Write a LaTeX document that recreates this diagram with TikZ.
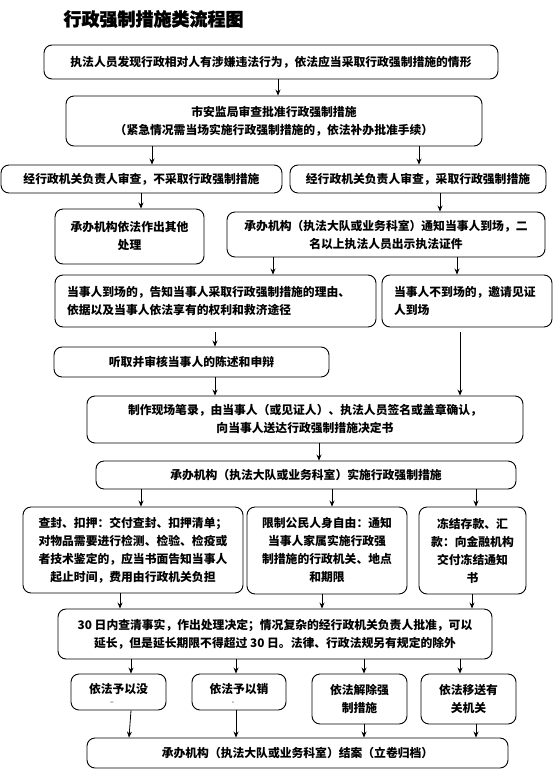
\documentclass[tikz,border=0pt]{standalone}
\usepackage{fontspec}
\setmainfont{Noto Sans CJK SC}
\newfontfamily\titlef[FakeBold=1.5]{Noto Sans CJK SC}
\usetikzlibrary{arrows.meta}
\begin{document}
\begin{tikzpicture}[x=1pt,y=-1pt,
  box/.style={draw, line width=0.9pt, rounded corners=8pt, inner sep=0pt, align=center,
    font=\bfseries\fontsize{11.8}{18}\selectfont},
  arr/.style={-{Stealth[length=6pt,width=5pt]}, line width=0.8pt},
  titlestyle/.style={font=\titlef\bfseries\fontsize{18}{20}\selectfont},
  tiny/.style={font=\fontsize{7}{7}\selectfont, inner sep=0pt}]
\useasboundingbox (0,0) rectangle (554,772);
\node[titlestyle, anchor=west] (title) at (60,19) {行政强制措施类流程图};

\node[box, minimum width=454, minimum height=34] (b1) at (271,62) {执法人员发现行政相对人有涉嫌违法行为，依法应当采取行政强制措施的情形};
\node[box, minimum width=416, minimum height=50] (b2) at (274,121) {市安监局审查批准行政强制措施\\（紧急情况需当场实施行政强制措施的，依法补办批准手续）};
\node[box, minimum width=281, minimum height=28] (b3L) at (141.5,179) {经行政机关负责人审查，不采取行政强制措施};
\node[box, minimum width=256, minimum height=28] (b3R) at (418,179) {经行政机关负责人审查，采取行政强制措施};
\node[box, minimum width=149, minimum height=55] (b4L) at (129.5,236.5) {承办机构依法作出其他\\处理};
\node[box, minimum width=318, minimum height=45] (b4R) at (386,234.5) {承办机构（执法大队或业务科室）通知当事人到场，二\\名以上执法人员出示执法证件};
\node[box, minimum width=321, minimum height=52, text width=297, inner xsep=12pt, align=left] (b5L) at (215.5,301) {当事人到场的，告知当事人采取行政强制措施的理由、\\依据以及当事人依法享有的权利和救济途径};
\node[box, minimum width=170, minimum height=52, text width=146, inner xsep=12pt, align=left] (b5R) at (467,301) {当事人不到场的，邀请见证\\人到场};
\node[box, minimum width=275, minimum height=30] (b6) at (191.5,362) {听取并审核当事人的陈述和申辩};
\node[box, minimum width=436, minimum height=47] (b7) at (305,419.5) {制作现场笔录，由当事人（或见证人）、执法人员签名或盖章确认，\\向当事人送达行政强制措施决定书};
\node[box, minimum width=420, minimum height=28] (b8) at (306,475) {承办机构（执法大队或业务科室）实施行政强制措施};
\node[box, minimum width=220, minimum height=86] (b9a) at (133,550) {查封、扣押：交付查封、扣押清单；\\对物品需要进行检测、检验、检疫或\\者技术鉴定的，应当书面告知当事人\\起止时间，费用由行政机关负担};
\node[box, minimum width=160, minimum height=87] (b9b) at (327,550.5) {限制公民人身自由：通知\\当事人家属实施行政强\\制措施的行政机关、地点\\和期限};
\node[box, minimum width=107, minimum height=87] (b9c) at (472.5,550.5) {冻结存款、汇\\款：向金融机构\\交付冻结通知\\书};
\node[box, minimum width=434, minimum height=50] (b10) at (275,634) {30 日内查清事实，作出处理决定；情况复杂的经行政机关负责人批准，可以\\延长，但是延长期限不得超过 30 日。法律、行政法规另有规定的除外};
\node[box, minimum width=95, minimum height=36, text depth=8pt] (b11a) at (118.5,692) {依法予以没};
\node[box, minimum width=94, minimum height=36, text depth=8pt] (b11b) at (239,692) {依法予以销};
\node[tiny] (d11a) at (112,703) {--};
\node[tiny] (d11b) at (233,703) {-};
\node[box, minimum width=95, minimum height=50] (b11c) at (359.5,699) {依法解除强\\制措施};
\node[box, minimum width=95, minimum height=50] (b11d) at (468.5,699) {依法移送有\\关机关};
\node[box, minimum width=421, minimum height=30] (b12) at (297.5,753) {承办机构（执法大队或业务科室）结案（立卷归档）};

\draw[arr] (b1.south -| 278,0) -- (b2.north -| 278,0);
\draw[arr] (b2.south -| 152,0) -- (b3L.north -| 152,0);
\draw[arr] (b2.south -| 419,0) -- (b3R.north -| 419,0);
\draw[arr] (b3L.south -| 141,0) -- (b4L.north -| 141,0);
\draw[arr] (b3R.south -| 440,0) -- (b4R.north -| 440,0);
\draw[arr] (b4R.south -| 273,0) -- (b5L.north -| 273,0);
\draw[arr] (b4R.south -| 457,0) -- (b5R.north -| 457,0);
\draw[arr, shorten <=5pt] (b5L.south -| 215,0) -- (b6.north -| 215,0);
\draw[arr] (b6.south -| 215,0) -- (b7.north -| 215,0);
\draw[arr, shorten <=5pt] (b5R.south -| 460,0) -- (b7.north -| 460,0);
\draw[arr] (b7.south -| 319,0) -- (b8.north -| 319,0);
\draw[arr] (b8.south -| 141,0) -- (b9a.north -| 141,0);
\draw[arr] (b8.south -| 332,0) -- (b9b.north -| 332,0);
\draw[arr] (b8.south -| 476,0) -- (b9c.north -| 476,0);
\draw[arr] (b9a.south -| 120,0) -- (b10.north -| 120,0);
\draw[arr] (b9b.south -| 322,0) -- (b10.north -| 322,0);
\draw[arr] (b9c.south -| 472,0) -- (b10.north -| 472,0);
\draw[arr] (b10.south -| 131,0) -- (b11a.north -| 131,0);
\draw[arr] (b10.south -| 236,0) -- (b11b.north -| 236,0);
\draw[arr] (b10.south -| 364,0) -- (b11c.north -| 364,0);
\draw[arr] (b10.south -| 460,0) -- (b11d.north -| 460,0);
\draw[arr] (b11a.south -| 131,0) -- (b12.north -| 129,0);
\draw[arr] (b11b.south -| 236,0) -- (b12.north -| 236,0);
\draw[arr] (b11c.south -| 364,0) -- (b12.north -| 364,0);
\draw[arr] (b11d.south -| 476,0) -- (b12.north -| 476,0);
\end{tikzpicture}
\end{document}
